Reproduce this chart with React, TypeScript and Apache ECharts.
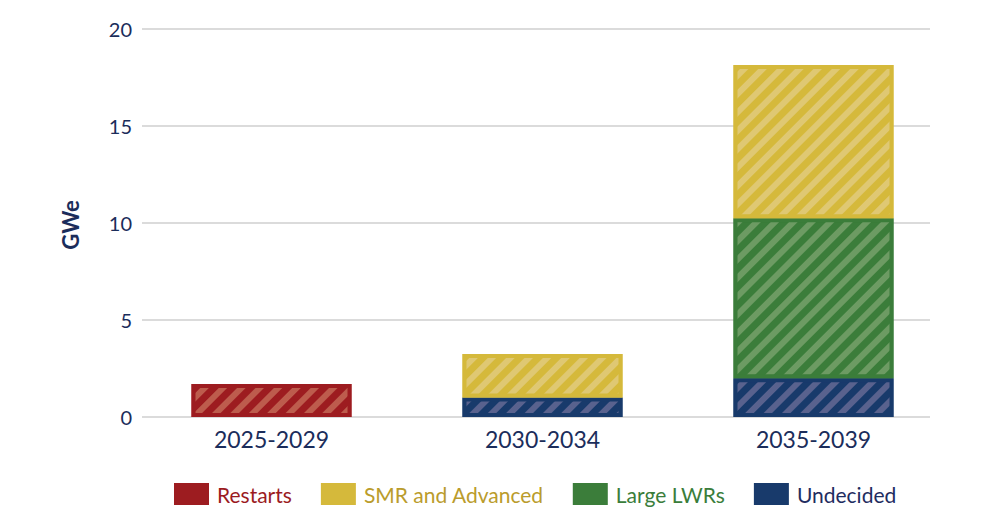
import React, { useEffect, useRef } from "react";
import * as echarts from "echarts";

const categories = ["2025-2029", "2030-2034", "2035-2039"];
const restarts = [1.7, 0, 0];
const smr = [0, 2.25, 7.9];
const largeLWRs = [0, 0, 8.25];
const undecided = [0, 1.0, 2.0];
const yTicks = [0, 5, 10, 15, 20];

const FONT = "Lato, 'Noto Sans', sans-serif";
const NAVY_TEXT = "#1B2D5B";

const seriesDefs = [
  { name: "Restarts", data: restarts, color: "#9D1C20", hatch: "#BD5C4D", text: "#9B1B1F" },
  { name: "SMR and Advanced", data: smr, color: "#D5B93B", hatch: "#DFC873", text: "#BA9C2C" },
  { name: "Large LWRs", data: largeLWRs, color: "#3B7D3A", hatch: "#6D9B63", text: "#3A7D3A" },
  { name: "Undecided", data: undecided, color: "#183A6B", hatch: "#59628E", text: "#1F2D5F" },
];
const stackOrder = ["Restarts", "Undecided", "Large LWRs", "SMR and Advanced"];

export default function App() {
  const ref = useRef<HTMLDivElement>(null);
  useEffect(() => {
    document.body.style.margin = "0";
    if (!ref.current) return;
    const chart = echarts.init(ref.current, undefined, { renderer: "svg" });
    const ordered = stackOrder.map((n) => seriesDefs.find((s) => s.name === n)!);
    chart.setOption({
      animation: false,
      backgroundColor: "#ffffff",
      textStyle: { fontFamily: FONT },
      grid: [
        { left: 142, right: 70, top: 29, bottom: 98 },
        { left: 136, right: 51, top: 29, bottom: 98 },
      ],
      xAxis: [
        {
          type: "category",
          gridIndex: 0,
          data: categories,
          axisLine: { show: false },
          axisTick: { show: false },
          axisLabel: { show: false },
        },
        {
          type: "category",
          gridIndex: 1,
          data: categories,
          axisLine: { show: false },
          axisTick: { show: false },
          axisLabel: { color: NAVY_TEXT, fontSize: 23, fontFamily: FONT, margin: 10 },
        },
      ],
      yAxis: [
        {
          type: "value",
          gridIndex: 0,
          min: 0,
          max: 20,
          interval: 5,
          axisLine: { show: false },
          axisTick: { show: false },
          axisLabel: { color: NAVY_TEXT, fontSize: 20, fontFamily: FONT, margin: 10 },
          splitLine: { lineStyle: { color: "#CFCFCF", width: 1.5 } },
        },
        {
          type: "value",
          gridIndex: 1,
          min: yTicks[0],
          max: yTicks[yTicks.length - 1],
          interval: 5,
          show: false,
          splitLine: { show: false },
        },
      ],
      legend: {
        left: 169,
        top: 478,
        itemWidth: 35,
        itemHeight: 22,
        itemGap: 29,
        icon: "rect",
        textStyle: { fontSize: 21, fontFamily: FONT, padding: [0, 0, 0, 3] },
        data: seriesDefs.map((s) => ({
          name: s.name,
          itemStyle: { color: s.color, decal: "none", borderWidth: 0 },
          textStyle: { color: s.text },
        })),
      },
      series: ordered.map((s) => ({
        name: s.name,
        type: "bar",
        stack: "total",
        xAxisIndex: 1,
        yAxisIndex: 1,
        barWidth: 160,
        data: s.data.map((v) => (v === 0 ? null : v)),
        itemStyle: {
          color: s.color,
          borderColor: s.color,
          borderWidth: 4,
          decal: {
            symbol: "rect",
            symbolSize: 1,
            dashArrayX: [1, 0],
            dashArrayY: [6, 6.5],
            rotation: -Math.PI / 4,
            color: s.hatch,
          },
        },
      })),
      graphic: [
        {
          type: "text",
          x: 70,
          y: 225,
          rotation: Math.PI / 2,
          style: {
            text: "GWe",
            fill: NAVY_TEXT,
            font: `bold 22px ${FONT}`,
            align: "center",
            verticalAlign: "middle",
          },
        },
      ],
    });
    return () => chart.dispose();
  }, []);
  return <div ref={ref} style={{ width: 1000, height: 515 }} />;
}
